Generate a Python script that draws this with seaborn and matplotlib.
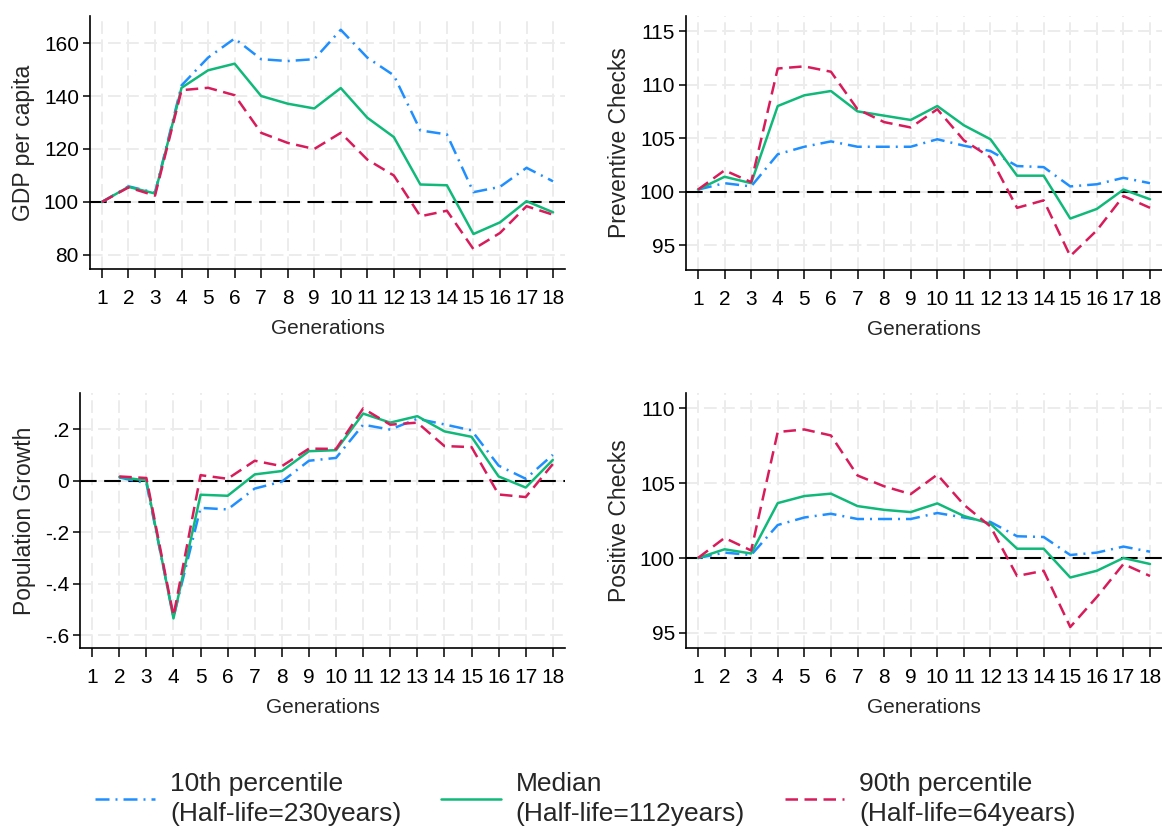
import numpy as np
import pandas as pd
import matplotlib
matplotlib.use("Agg")
import matplotlib.pyplot as plt
import seaborn as sns

# Data
generations = list(range(1, 19))

gdp_p10 = [100, 105.9, 103.5, 144, 154.5, 161.7, 153.9, 153.2, 153.9, 165, 154.5, 147.8, 127, 125.5, 103.7, 105.7, 112.9, 107.8]
gdp_med = [100, 105.7, 103.2, 143.1, 149.7, 152.2, 140, 137.1, 135.3, 143, 131.8, 124.5, 106.6, 106.3, 87.9, 92.3, 100.3, 96.1]
gdp_p90 = [100, 105.5, 102.4, 142.2, 143.1, 140.3, 126.1, 122.3, 120, 126.1, 116, 110, 94.6, 96.7, 82.2, 88.3, 98.4, 95.2]

prev_p10 = [100.2, 100.8, 100.5, 103.5, 104.2, 104.7, 104.2, 104.2, 104.2, 104.9, 104.3, 103.8, 102.4, 102.3, 100.5, 100.7, 101.3, 100.8]
prev_med = [100.2, 101.4, 100.8, 108, 109, 109.4, 107.5, 107.1, 106.7, 108, 106.2, 104.9, 101.5, 101.5, 97.5, 98.4, 100.2, 99.3]
prev_p90 = [100.2, 102, 100.9, 111.5, 111.7, 111.2, 107.7, 106.5, 106, 107.7, 104.8, 103.2, 98.5, 99.2, 94, 96.4, 99.6, 98.5]

pop_p10 = [np.nan, 0.012, -0.01, -0.53, -0.106, -0.112, -0.031, -0.004, 0.077, 0.088, 0.217, 0.198, 0.24, 0.218, 0.195, 0.058, 0.007, 0.10]
pop_med = [np.nan, 0.014, 0.0, -0.535, -0.055, -0.059, 0.024, 0.037, 0.114, 0.118, 0.26, 0.225, 0.25, 0.191, 0.17, 0.016, -0.027, 0.08]
pop_p90 = [np.nan, 0.016, 0.01, -0.525, 0.021, 0.007, 0.077, 0.056, 0.124, 0.123, 0.28, 0.217, 0.225, 0.134, 0.13, -0.054, -0.064, 0.064]

pos_p10 = [100, 100.36, 100.2, 102.2, 102.7, 102.95, 102.6, 102.6, 102.6, 103.0, 102.7, 102.4, 101.45, 101.4, 100.2, 100.36, 100.76, 100.42]
pos_med = [100, 100.58, 100.3, 103.66, 104.13, 104.29, 103.46, 103.21, 103.06, 103.64, 102.8, 102.28, 100.62, 100.62, 98.7, 99.15, 100, 99.6]
pos_p90 = [100, 101.34, 100.5, 108.4, 108.57, 108.17, 105.5, 104.78, 104.26, 105.56, 103.55, 102.1, 98.8, 99.15, 95.4, 97.4, 99.6, 98.8]

series_names = ["10th percentile\n(Half-life=230years)",
                "Median\n(Half-life=112years)",
                "90th percentile\n(Half-life=64years)"]
palette = dict(zip(series_names, ["#1f8fff", "#10b97a", "#d81b5a"]))
dashes = dict(zip(series_names, [(5.6, 2.4, 0.8, 2.4), "", (5.0, 2.6)]))

sns.set_theme(style="white")
plt.rcParams['font.family'] = ['Liberation Sans', 'DejaVu Sans']

W, H = 1162, 836
fig = plt.figure(figsize=(W / 100, H / 100), dpi=100)


def px_axes(left, right, top, bottom):
    return fig.add_axes([left / W, (H - bottom) / H, (right - left) / W, (bottom - top) / H])


panels = [
    dict(box=(90, 565, 16, 269), vals=(gdp_p10, gdp_med, gdp_p90), ylabel="GDP per capita",
         ylim=(74.7, 170.2), yticks=[80, 100, 120, 140, 160], yticklabels=None, ref=100),
    dict(box=(686, 1162, 16, 270), vals=(prev_p10, prev_med, prev_p90), ylabel="Preventive Checks",
         ylim=(92.7, 116.4), yticks=[95, 100, 105, 110, 115], yticklabels=None, ref=100),
    dict(box=(80, 565, 393, 648), vals=(pop_p10, pop_med, pop_p90), ylabel="Population Growth",
         ylim=(-0.65, 0.34), yticks=[-0.6, -0.4, -0.2, 0, 0.2],
         yticklabels=["-.6", "-.4", "-.2", "0", ".2"], ref=0),
    dict(box=(686, 1162, 393, 648), vals=(pos_p10, pos_med, pos_p90), ylabel="Positive Checks",
         ylim=(94.0, 111.0), yticks=[95, 100, 105, 110], yticklabels=None, ref=100),
]

for i, p in enumerate(panels):
    ax = px_axes(*p["box"])
    rows = []
    for name, vals in zip(series_names, p["vals"]):
        for g, v in zip(generations, vals):
            rows.append({"Generations": g, "value": v, "series": name})
    df = pd.DataFrame(rows).dropna()

    ax.set_xlim(0.55, 18.45)
    ax.set_ylim(*p["ylim"])
    ax.set_xticks(generations)
    ax.set_yticks(p["yticks"])
    if p["yticklabels"]:
        ax.set_yticklabels(p["yticklabels"])
    ax.grid(True, color="#ececec", linewidth=1.4, linestyle=(0, (6.5, 2.8)))
    ax.set_axisbelow(True)

    ax.axhline(p["ref"], color="black", linewidth=1.5, linestyle=(0, (8, 3.6)), zorder=2)

    sns.lineplot(data=df, x="Generations", y="value", hue="series", style="series",
                 palette=palette, dashes=dashes, hue_order=series_names,
                 style_order=series_names, linewidth=1.8, ax=ax, legend=(i == 0), zorder=3)

    for side in ["top", "right"]:
        ax.spines[side].set_visible(False)
    for side in ["left", "bottom"]:
        ax.spines[side].set_color("black")
        ax.spines[side].set_linewidth(1.2)
    ax.tick_params(axis="x", which="major", direction="out", length=6.5, width=1.1,
                   color="black", labelsize=15, labelcolor="black", bottom=True, pad=8)
    ax.tick_params(axis="y", which="major", direction="out", length=5, width=1.1,
                   color="black", labelsize=15, labelcolor="black", left=True, pad=3)
    ax.set_xlabel("Generations", fontsize=15, labelpad=8)
    ax.set_ylabel(p["ylabel"], fontsize=16.5, labelpad=6)

    if i == 0:
        handles, labels = ax.get_legend_handles_labels()
        ax.get_legend().remove()

leg = fig.legend(handles, labels, loc="lower left", bbox_to_anchor=(95 / W, 0.012), ncol=3,
                 frameon=False, fontsize=19, handlelength=2.27, handletextpad=0.57,
                 columnspacing=1.5, borderpad=0, borderaxespad=0)
for t in leg.get_texts():
    t.set_linespacing(1.3)

fig.savefig("out.png", dpi=100)
